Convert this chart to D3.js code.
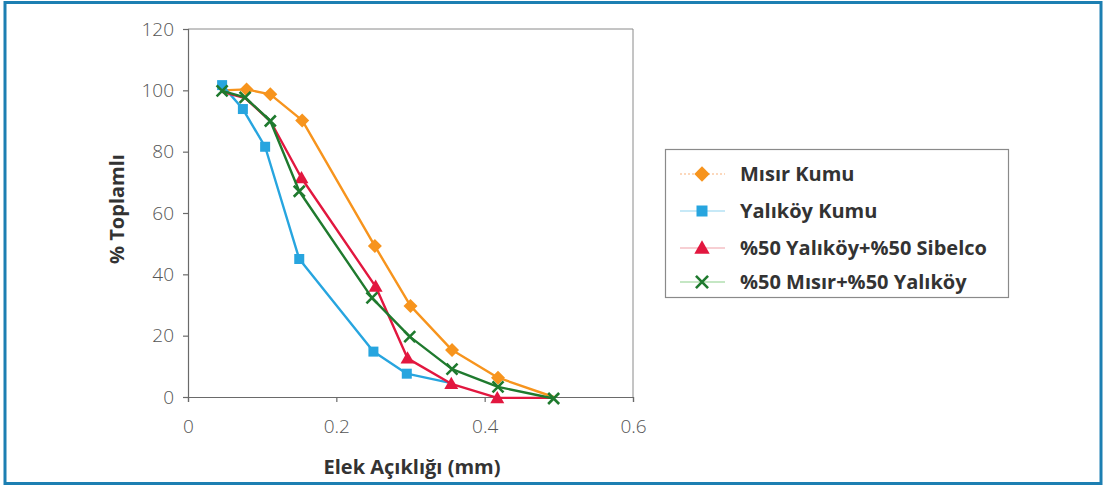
<!DOCTYPE html>
<html><head><meta charset="utf-8">
<script src="https://cdn.jsdelivr.net/npm/d3@7/dist/d3.min.js"></script>
<style>
html,body{margin:0;padding:0;background:#fff;}
svg{display:block;}
</style></head>
<body>
<svg id="chart" width="1106" height="494"></svg>
<script>
// ---- data ----
const seriesNames = ["Mısır Kumu", "Yalıköy Kumu", "%50 Yalıköy+%50 Sibelco", "%50 Mısır+%50 Yalıköy"];
const misirX = [0.046, 0.079, 0.111, 0.154, 0.252, 0.300, 0.356, 0.418, 0.493];
const misirY = [100, 100.3, 98.7, 90.2, 49.2, 29.7, 15.3, 6.3, 0];
const yalikoyX = [0.046, 0.074, 0.104, 0.150, 0.250, 0.295, 0.355];
const yalikoyY = [101.7, 93.9, 81.6, 45, 14.8, 7.6, 4.5];
const sibelcoX = [0.046, 0.077, 0.111, 0.153, 0.253, 0.296, 0.355, 0.417, 0.493];
const sibelcoY = [99.5, 97.5, 90, 71.4, 36, 12.6, 4.3, -0.3, -0.3];
const karisimX = [0.046, 0.077, 0.111, 0.150, 0.248, 0.299, 0.356, 0.418, 0.493];
const karisimY = [99.8, 97.7, 90, 67.1, 32.3, 19.7, 9.1, 3.3, -0.5];
// points whose marker is covered by another series in the original (no visible marker)
const misirHidden = [0, 8];
const yalikoyHidden = [6];
const sibelcoHidden = [0, 1, 2, 8];
const karisimHidden = [];
const xTicks = [0, 0.2, 0.4, 0.6];
const yTicks = [0, 20, 40, 60, 80, 100, 120];
const xTitle = "Elek Açıklığı (mm)";
const yTitle = "% Toplamlı";

const colors = ["#f7941d", "#27a5df", "#e2173f", "#1f7a2e"];
const legendLineColors = ["#f9b27a", "#8fd3f0", "#f0a0a8", "#8ccf8a"];

const svg = d3.select("#chart");

// outer frame
svg.append("rect").attr("x", 5).attr("y", 2.5).attr("width", 1096).attr("height", 481)
  .attr("fill", "#fff").attr("stroke", "#1c7fb2").attr("stroke-width", 3);

const x = d3.scaleLinear().domain([0, 0.6]).range([188, 633]);
const y = d3.scaleLinear().domain([0, 120]).range([397, 29]);

const axisColor = "#6a6a6a";
const tickFont = "'Open Sans', 'DejaVu Sans', sans-serif";
const boldFont = "'Open Sans', 'DejaVu Sans', sans-serif";

// plot frame (top/right)
svg.append("line").attr("x1", x(0)).attr("x2", x(0.6)).attr("y1", y(120)).attr("y2", y(120))
  .attr("stroke", "#8a8a8a").attr("stroke-width", 1);
svg.append("line").attr("x1", x(0.6)).attr("x2", x(0.6)).attr("y1", y(120)).attr("y2", y(0))
  .attr("stroke", "#8a8a8a").attr("stroke-width", 1);

// axes
const yAxis = svg.append("g").attr("transform", `translate(${x(0)},0)`)
  .call(d3.axisLeft(y).tickValues(yTicks).tickSize(5).tickPadding(9).tickFormat(d3.format("d")));
const xAxis = svg.append("g").attr("transform", `translate(0,${y(0)})`)
  .call(d3.axisBottom(x).tickValues(xTicks).tickSize(5).tickPadding(18).tickFormat(d => d === 0 ? "0" : d3.format(".1f")(d)));
[xAxis, yAxis].forEach(g => {
  g.select(".domain").attr("stroke", axisColor).attr("stroke-width", 1.2);
  g.selectAll(".tick line").attr("stroke", axisColor).attr("stroke-width", 1.2);
  g.selectAll(".tick text").attr("fill", "#555").attr("font-family", tickFont)
    .attr("font-weight", 300).attr("font-size", 19);
});

// titles
svg.append("text").attr("x", 412).attr("y", 474).attr("text-anchor", "middle")
  .attr("font-family", boldFont).attr("font-weight", 700).attr("font-size", 20)
  .attr("fill", "#333").text(xTitle);
svg.append("text").attr("transform", "translate(124,209) rotate(-90)").attr("text-anchor", "middle")
  .attr("font-family", boldFont).attr("font-weight", 700).attr("font-size", 20)
  .attr("fill", "#333").text(yTitle);

// marker drawing
function drawMarker(g, i, cx, cy, scale) {
  const c = colors[i];
  if (i === 0) {
    const r = 7 * scale;
    g.append("path").attr("d", `M${cx},${cy - r}L${cx + r},${cy}L${cx},${cy + r}L${cx - r},${cy}Z`).attr("fill", c);
  } else if (i === 1) {
    const h = 5 * scale;
    g.append("rect").attr("x", cx - h).attr("y", cy - h).attr("width", 2 * h).attr("height", 2 * h).attr("fill", c);
  } else if (i === 2) {
    const w = 7 * scale, t = 7 * scale;
    g.append("path").attr("d", `M${cx},${cy - t}L${cx + w},${cy + t * 0.75}L${cx - w},${cy + t * 0.75}Z`).attr("fill", c);
  } else {
    const h = 5.5 * scale;
    g.append("path").attr("d", `M${cx - h},${cy - h}L${cx + h},${cy + h}M${cx - h},${cy + h}L${cx + h},${cy - h}`)
      .attr("stroke", c).attr("stroke-width", 2.6).attr("fill", "none");
  }
}

// series
const allSeries = [
  { xs: misirX, ys: misirY, hidden: misirHidden },
  { xs: yalikoyX, ys: yalikoyY, hidden: yalikoyHidden },
  { xs: sibelcoX, ys: sibelcoY, hidden: sibelcoHidden },
  { xs: karisimX, ys: karisimY, hidden: karisimHidden }
];
const line = d3.line().x(d => x(d[0])).y(d => y(d[1]));

allSeries.forEach((s, i) => {
  const pts = s.xs.map((v, j) => [v, s.ys[j]]);
  const g = svg.append("g");
  g.append("path").datum(pts).attr("d", line).attr("fill", "none")
    .attr("stroke", colors[i]).attr("stroke-width", 2.4).attr("stroke-linejoin", "round");
  pts.forEach((p, j) => {
    if (s.hidden.includes(j)) return;
    drawMarker(g, i, x(p[0]), y(p[1]), 1);
  });
});

// legend
const lg = svg.append("g");
lg.append("rect").attr("x", 665.5).attr("y", 149.5).attr("width", 343).attr("height", 148)
  .attr("fill", "#fff").attr("stroke", "#8a8a8a").attr("stroke-width", 1.2);
const rowY = [174, 211, 248, 282];
seriesNames.forEach((name, i) => {
  const ly = rowY[i];
  lg.append("line").attr("x1", 680).attr("x2", 725).attr("y1", ly).attr("y2", ly)
    .attr("stroke", legendLineColors[i]).attr("stroke-width", 1.2)
    .attr("stroke-dasharray", i === 0 ? "2,2" : null);
  drawMarker(lg, i, 702, ly, 1.1);
  lg.append("text").attr("x", 740).attr("y", ly + 7).attr("font-family", boldFont)
    .attr("font-weight", 700).attr("font-size", 20).attr("fill", "#333").text(name);
});
</script>
</body></html>
